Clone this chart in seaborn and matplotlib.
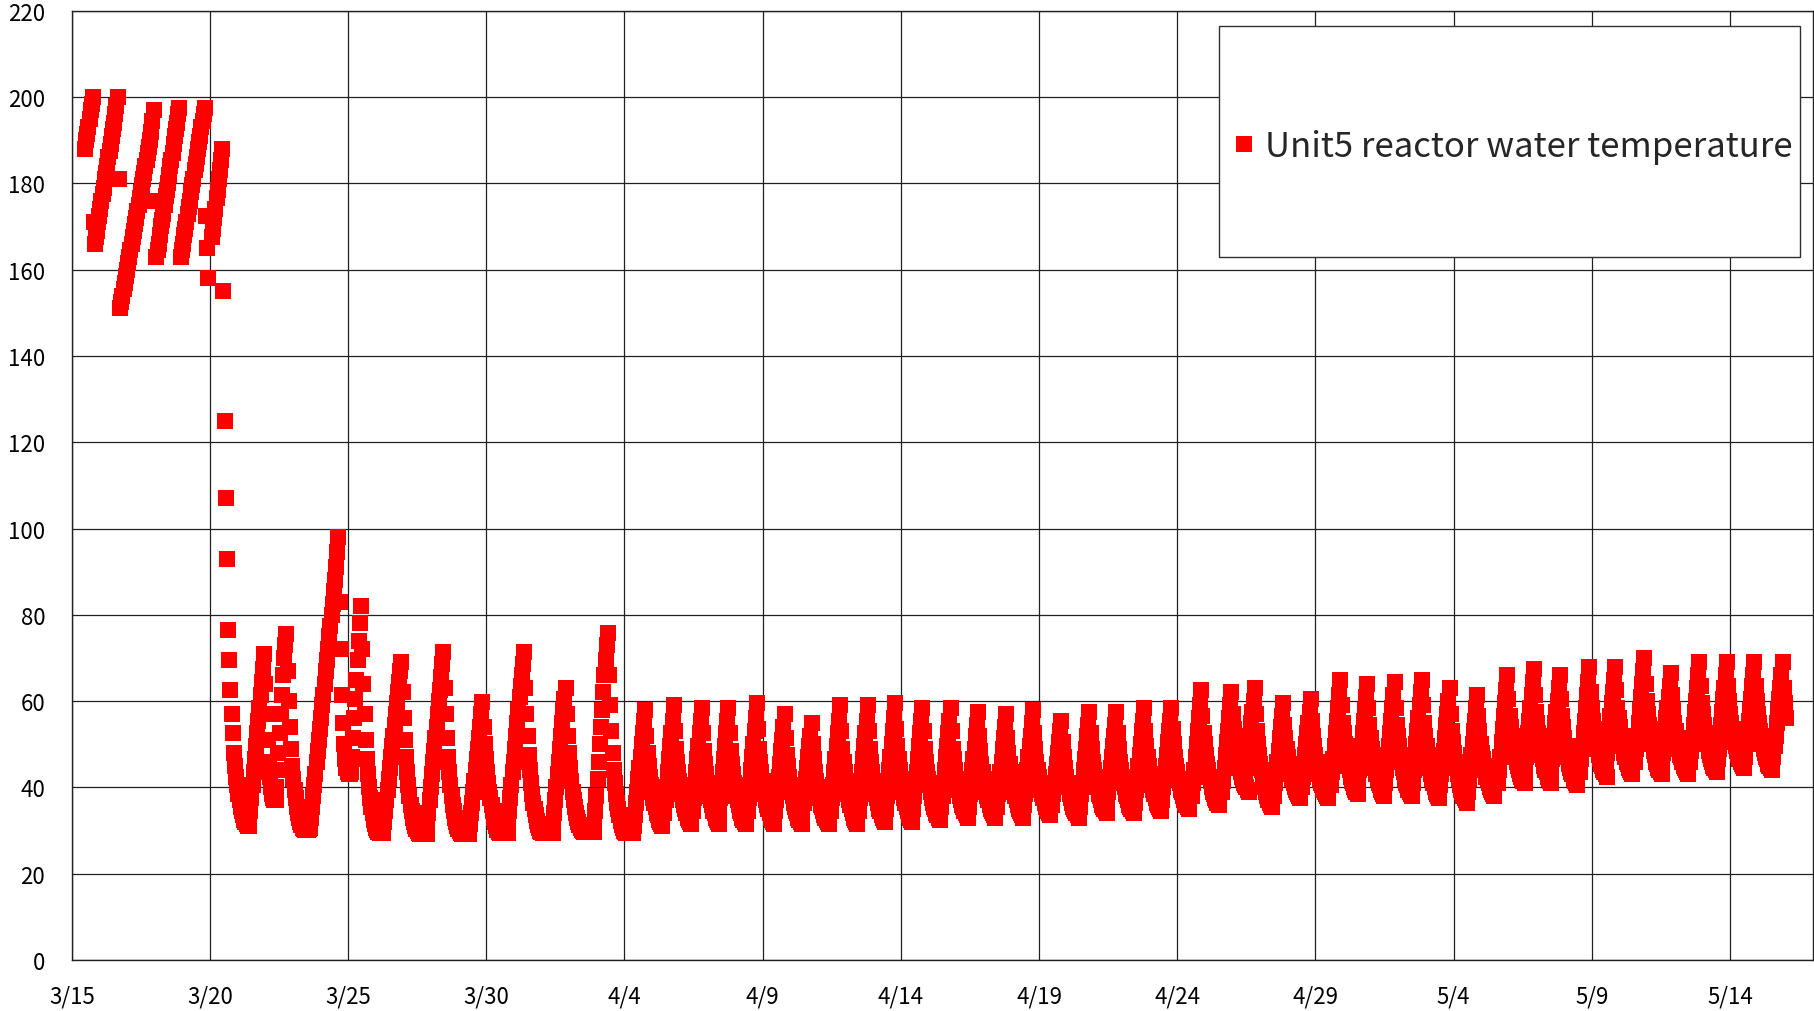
import matplotlib
matplotlib.use("Agg")
import matplotlib.pyplot as plt
from matplotlib.lines import Line2D
from matplotlib.patches import Rectangle
import pandas as pd
import seaborn as sns

# --- Axis labels ---------------------------------------------------------------
TICK_DAYS   = [0, 5, 10, 15, 20, 25, 30, 35, 40, 45, 50, 55, 60]   # days after 3/15
TICK_LABELS = ["3/15", "3/20", "3/25", "3/30", "4/4", "4/9", "4/14",
               "4/19", "4/24", "4/29", "5/4", "5/9", "5/14"]
Y_TICKS     = [0, 20, 40, 60, 80, 100, 120, 140, 160, 180, 200, 220]
SERIES_NAME = "Unit5 reactor water temperature"

# --- Readings (deg C), grouped by heat-up cycle --------------------------------
# peak_day: day of each cycle's peak (days after 3/15 00:00)
# rise_temps: hourly readings leading into the peak, fall_temps: hourly after it
peak_day = [0.77, 1.66, 2.96, 3.90, 4.82, 5.45,
            6.96, 7.77, 9.65, 10.47, 11.93, 13.45, 14.86, 16.37, 17.87, 19.40,
            20.75, 21.78, 22.80, 23.76, 24.79, 25.79, 26.77, 27.80, 28.80, 29.79,
            30.78, 31.80, 32.79, 33.81, 34.78, 35.81, 36.82, 37.80, 38.80, 39.79,
            40.87, 41.96, 42.80, 43.83, 44.83, 45.90, 46.87, 47.86, 48.85, 49.85,
            50.85, 51.94, 52.90, 53.84, 54.91, 55.84, 56.90, 57.86, 58.89, 59.88,
            60.88, 61.90]

peak_temp = [200, 200, 197, 197.5, 197.5, 188,
             71, 75.5, 98, 82, 69, 71.3, 59.7, 71.3, 63, 75.7,
             58, 59, 58.5, 58.5, 59.5, 57, 55, 59, 59, 59.5,
             58.5, 58.5, 57.5, 57, 58, 55.5, 57.5, 57.5, 58.5, 58.5,
             62.5, 62, 63, 59.5, 60.5, 65, 64, 64.5, 65, 63,
             61.5, 66, 67.5, 66, 68, 68, 70, 66.5, 69, 69,
             69, 69]

rise_temps = [
    [188, 190, 191.5, 193, 195, 197, 198.5],
    [166, 167.5, 169, 171, 172.5, 174, 176, 177.5, 179, 181, 182.5, 184, 186, 187.5,
     189, 191, 192.5, 194, 196, 198],
    [151, 152.5, 154, 155.5, 157, 158.5, 160, 161.5, 163, 164.5, 166, 167.5, 169, 170.5,
     172, 173.5, 175, 176.5, 178, 179.5, 181, 182.5, 184, 185.5, 187, 188.5, 190, 192, 194.5],
    [163, 164.5, 166, 168, 170, 171.5, 173, 175, 177, 178.5, 180, 182, 184, 185.5,
     187, 189, 191, 192.5, 194, 196],
    [163, 164.5, 166, 168, 169.5, 171, 173, 174.5, 176, 178, 179.5, 181, 183, 184.5,
     186, 188, 189.5, 191, 193, 194.5, 196],
    [167.5, 169.5, 172, 174, 176.5, 178.5, 181, 183, 185.5],
    [32, 34.5, 37.5, 40.5, 43.5, 46.5, 49.5, 52.5, 55.5, 58.5, 61.5, 64.5, 67.5],
    [40, 44, 48, 52.5, 57, 61.5, 66, 70, 73],
    [30.5, 33, 35.5, 38, 40.5, 43, 46, 48.5, 51, 53.5, 56, 59, 61.5, 64, 67, 69.5,
     72, 75, 77.5, 80, 82.5, 85.5, 88, 91, 94.5],
    [47, 51.5, 56, 60.5, 65, 69.5, 74, 78],
    [30, 32, 34.5, 37, 39.5, 42, 44.5, 47, 49.5, 52, 54.5, 57, 59.5, 62, 64.5, 67],
    [31, 34, 37, 40, 43, 46, 48.5, 51.5, 54, 57, 60, 62.5, 65.5, 68.5],
    [31.5, 34, 36.5, 39, 41.5, 44, 46.5, 49, 51.5, 54, 57],
    [31.5, 34.5, 37.5, 40.5, 43.5, 46, 49, 52, 55, 58, 61, 63.5, 66, 68.5],
    [31.5, 34, 37, 40, 43, 46, 49, 52, 55, 58, 60.5],
    [31, 34.5, 38, 42, 46, 50, 54, 58, 62, 66, 69.5, 73],
    [31, 33.5, 36.5, 39, 42, 44.5, 47, 50, 52.5, 55.5],
    [34, 37, 40, 43.5, 46.5, 49.5, 52.5, 55.5],
    [34.5, 37.5, 40.5, 43.5, 46.5, 49.5, 52.5, 55.5],
    [34.5, 37.5, 40.5, 43.5, 46.5, 49.5, 52.5, 55.5],
    [34.5, 37.5, 40.5, 44, 47, 50, 53, 56],
    [34.5, 37, 40, 42.5, 45.5, 48.5, 51, 54],
    [34, 36.5, 39.5, 42, 44.5, 47, 49.5, 52],
    [34.5, 37.5, 40.5, 43.5, 46.5, 49.5, 52.5, 55.5],
    [34.5, 37.5, 40.5, 43.5, 46.5, 49.5, 52.5, 55.5],
    [35, 38, 41, 44, 47, 50, 53, 56],
    [35, 38, 40.5, 43.5, 46.5, 49.5, 52.5, 55.5],
    [35.5, 38, 41, 44, 47, 49.5, 52.5, 55.5],
    [35.5, 38.5, 41, 44, 46.5, 49, 52, 54.5],
    [35.5, 38.5, 41, 43.5, 46, 49, 51.5, 54],
    [36, 38.5, 41, 44, 47, 49.5, 52, 55],
    [36, 38.5, 41, 43, 45.5, 48, 50.5, 53],
    [35.5, 38.5, 41, 44, 46.5, 49, 52, 54.5],
    [36.5, 39, 42, 44.5, 47, 49.5, 52, 54.5],
    [36.5, 39.5, 42, 45, 47.5, 50, 53, 55.5],
    [37, 40, 42.5, 45, 47.5, 50.5, 53, 55.5],
    [38, 41, 44, 47, 50, 53, 56, 59],
    [39, 41.5, 44.5, 47.5, 50.5, 53, 56, 59],
    [41.5, 44.5, 47, 49.5, 52, 55, 57.5, 60],
    [38, 41, 43.5, 46, 48.5, 51.5, 54, 56.5],
    [40, 42.5, 45, 47.5, 50, 52.5, 55, 57.5],
    [40.5, 43.5, 46.5, 49.5, 52.5, 55.5, 58.5, 61.5],
    [41.5, 44, 47, 49.5, 52.5, 55.5, 58, 61],
    [41, 44, 46.5, 49.5, 52.5, 55.5, 58.5, 61.5],
    [41, 44, 47, 50, 53, 56, 59, 62],
    [40.5, 43, 46, 48.5, 51.5, 54.5, 57, 60],
    [39, 42, 44.5, 47.5, 50, 53, 55.5, 58.5],
    [41, 44, 47, 50.5, 53.5, 56.5, 59.5, 62.5],
    [44, 47, 49.5, 52.5, 55.5, 58.5, 61.5, 64.5],
    [44, 46.5, 49, 52, 55, 57.5, 60, 63],
    [43.5, 46.5, 49.5, 52.5, 55.5, 58.5, 61.5, 64.5],
    [45.5, 48, 51, 53.5, 56.5, 59.5, 62, 65],
    [46, 49, 52, 55, 58, 61, 64, 67],
    [45.5, 48, 51, 53.5, 56, 58.5, 61, 63.5],
    [46, 48.5, 51.5, 54.5, 57.5, 60, 63, 66],
    [46.5, 49, 52, 54.5, 57.5, 60.5, 63, 66],
    [47, 50, 52.5, 55.5, 58, 60.5, 63.5, 66],
    [47, 49.5, 52, 55, 58, 60.5, 63, 66],
]

fall_temps = [
    [171],
    [181],
    [176],
    [],
    [172.5, 165, 158],
    [155, 125, 107, 93, 76.5, 69.5, 62.5, 57, 52.5, 48, 45, 42.5, 40.5, 38.5, 37,
     35.5, 34.5, 33.5, 32.5, 32, 31.5, 31, 31],
    [64, 57, 51, 46, 42.5, 40, 38.5, 37.5, 37, 37],
    [67, 60, 54, 49, 45, 42, 39.5, 37.5, 35.5, 34, 33, 32, 31.2, 30.7, 30.4, 30.2,
     30.2, 30.2, 30.2, 30.3],
    [83, 72, 61.5, 55, 50, 46.5, 44.5, 43.5, 43, 43, 43.5],
    [72, 64, 57, 51, 46.5, 43, 40, 37.5, 35.5, 34, 32.5, 31.5, 30.7, 30.1, 29.7,
     29.5, 29.4, 29.4, 29.4],
    [62, 56, 51, 47, 43.5, 40.5, 38, 36, 34.5, 33, 32, 31, 30.3, 29.8, 29.4, 29.2,
     29.1, 29.1, 29.1, 29.1, 29.1, 29.1],
    [63, 57, 51.5, 47, 43.5, 40.5, 38, 36, 34.5, 33, 32, 31, 30.3, 29.8, 29.4, 29.2,
     29.1, 29.1, 29.1, 29.1, 29.1, 29.2],
    [54, 50, 46.5, 43.5, 41, 39, 37.5, 36, 34.5, 33, 32, 31, 30.2, 29.7, 29.4, 29.4,
     29.4, 29.4, 29.4, 29.4, 29.4, 29.4],
    [63, 57, 52, 47.5, 44, 41, 38.5, 36.5, 35, 33.5, 32.3, 31.3, 30.5, 30, 29.6,
     29.4, 29.4, 29.4, 29.4, 29.4, 29.4, 29.4, 29.4, 29.4, 29.4],
    [57, 52, 48, 44.5, 41.5, 39, 37, 35.5, 34, 33, 32, 31.2, 30.6, 30.1, 29.8, 29.6,
     29.6, 29.6, 29.6, 29.6, 29.6, 29.6, 29.6, 29.6, 29.6],
    [66, 59, 53, 48, 44, 41, 38.5, 36.5, 35, 33.5, 32.3, 31.3, 30.5, 30, 29.6, 29.4,
     29.4, 29.4, 29.4, 29.4, 29.4, 29.4],
    [52, 48, 45, 42.5, 40.5, 39, 37.5, 36.5, 35.5, 34, 33.5, 32.5, 32, 31.5, 31],
    [53, 49, 46, 43.5, 41.5, 40, 38.5, 37, 36, 35, 34, 33, 32.5, 32, 31.5],
    [52.5, 48.5, 45.5, 43, 41, 39.5, 38, 37, 36, 34.5, 34, 33, 32.5, 32, 31.5],
    [52.5, 48.5, 45.5, 43, 41, 39.5, 38, 37, 36, 34.5, 34, 33, 32.5, 32, 31.5],
    [53.5, 49, 46, 43.5, 41.5, 40, 38.5, 37, 36, 35, 34, 33, 32.5, 32, 31.5],
    [51.5, 47.5, 45, 42.5, 40.5, 39, 38, 36.5, 35.5, 34.5, 34, 33, 32.5, 32, 31.5],
    [50, 46.5, 43.5, 41.5, 40, 38.5, 37.5, 36, 35.5, 34.5, 33.5, 33, 32.5, 32, 31.5],
    [53, 49, 46, 43.5, 41.5, 40, 38.5, 37, 36, 35, 34, 33, 32.5, 32, 31.5],
    [53, 49, 46, 43.5, 41.5, 40, 38.5, 37.5, 36.5, 35, 34.5, 33.5, 33, 32.5, 32],
    [53.5, 49.5, 46.5, 44, 42, 40.5, 39, 37.5, 36.5, 35.5, 34.5, 33.5, 33, 32.5, 32],
    [53, 49, 46, 43.5, 42, 40.5, 39, 37.5, 36.5, 35.5, 35, 34, 33.5, 33, 32.5],
    [53, 49, 46.5, 44, 42, 40.5, 39.5, 38, 37, 36, 35.5, 34.5, 34, 33.5, 33],
    [52, 48.5, 45.5, 43.5, 42, 40.5, 39, 38, 37, 36, 35, 34.5, 34, 33.5, 33],
    [51.5, 48, 45.5, 43.5, 41.5, 40, 39, 38, 37, 36, 35, 34.5, 34, 33.5, 33],
    [52.5, 49, 46, 44, 42.5, 41, 39.5, 38.5, 37.5, 36.5, 35.5, 35, 34.5, 34, 33.5],
    [50.5, 47, 44.5, 42.5, 41, 40, 38.5, 37.5, 36.5, 35.5, 35, 34.5, 34, 33.5, 33],
    [52.5, 49, 46, 44, 42.5, 41, 40, 38.5, 38, 37, 36, 35.5, 35, 34.5, 34],
    [52.5, 49, 46, 44, 42.5, 41, 40, 38.5, 38, 37, 36, 35.5, 35, 34.5, 34],
    [53, 49.5, 47, 45, 43, 41.5, 40.5, 39.5, 38.5, 37.5, 36.5, 36, 35.5, 35, 34.5],
    [53.5, 50, 47, 45, 43.5, 42, 41, 39.5, 39, 38, 37, 36.5, 36, 35.5, 35],
    [56.5, 52.5, 50, 47.5, 45.5, 44, 42.5, 41.5, 40, 39, 38.5, 37.5, 37, 36.5, 36],
    [57, 53.5, 51, 49, 47.5, 46, 45, 43.5, 42.5, 42, 41, 40.5, 40, 39.5, 39],
    [57, 53, 50, 47.5, 45.5, 44, 42.5, 41, 40, 39, 38, 37, 36.5, 36, 35.5],
    [54.5, 51.5, 49, 47, 45.5, 44, 43, 42, 41, 40, 39.5, 39, 38.5, 38, 37.5],
    [55.5, 52, 49.5, 47.5, 46, 44.5, 43, 42, 41, 40.5, 39.5, 39, 38.5, 38, 37.5],
    [59, 55, 52.5, 50, 48, 46.5, 45, 44, 42.5, 41.5, 41, 40, 39.5, 39, 38.5],
    [58.5, 54.5, 51.5, 49, 47.5, 46, 44.5, 43, 42, 41, 40.5, 39.5, 39, 38.5, 38],
    [58.5, 54.5, 52, 49.5, 47.5, 46, 44.5, 43.5, 42, 41, 40.5, 39.5, 39, 38.5, 38],
    [59, 55, 52, 49.5, 47.5, 46, 44.5, 43, 42, 41, 40, 39, 38.5, 38, 37.5],
    [57, 53, 50.5, 48, 46, 44.5, 43, 42, 40.5, 39.5, 39, 38, 37.5, 37, 36.5],
    [56.5, 53, 50, 48, 46.5, 45, 44, 42.5, 42, 41, 40, 39.5, 39, 38.5, 38],
    [60.5, 56.5, 54, 52, 50, 48.5, 47, 46, 45, 44, 43, 42.5, 42, 41.5, 41],
    [61.5, 57.5, 55, 52.5, 50.5, 49, 47.5, 46.5, 45, 44, 43.5, 42.5, 42, 41.5, 41],
    [60.5, 56.5, 54, 51.5, 49.5, 48, 47, 45.5, 44.5, 43.5, 43, 42, 41.5, 41, 40.5],
    [62, 58.5, 55.5, 53.5, 51.5, 50, 49, 47.5, 46.5, 45.5, 45, 44, 43.5, 43, 42.5],
    [62.5, 58.5, 56, 54, 52, 50.5, 49.5, 48, 47, 46, 45.5, 44.5, 44, 43.5, 43],
    [64, 60, 57, 54.5, 52.5, 51, 50, 48.5, 47.5, 46, 45.5, 44.5, 44, 43.5, 43],
    [61.5, 58, 55, 53, 51.5, 50, 49, 47.5, 47, 46, 45, 44.5, 44, 43.5, 43],
    [63.5, 59.5, 57, 54.5, 52.5, 51, 50, 48.5, 47.5, 46.5, 46, 45, 44.5, 44, 43.5],
    [63.5, 60, 57, 55, 53.5, 52, 50.5, 49.5, 48.5, 47.5, 46.5, 46, 45.5, 45, 44.5],
    [63.5, 60, 57, 55, 53, 51.5, 50, 49, 48, 47, 46.5, 45.5, 45, 44.5, 44],
    [63, 59.5, 56],
]

# --- Flatten into one hourly table ------------------------------------------
rows = []
for day, top, rise, fall in zip(peak_day, peak_temp, rise_temps, fall_temps):
    n = len(rise)
    for j, t in enumerate(rise):
        rows.append((day - (n - j) / 24, t))
    rows.append((day, top))
    for i, t in enumerate(fall):
        rows.append((day + (i + 1) / 24, t))
df = pd.DataFrame(rows, columns=["day", "temp"])

# --- Plot -------------------------------------------------------------------
sns.set_style("white")
plt.rcParams["font.family"] = ["Noto Sans CJK JP", "DejaVu Sans"]

fig = plt.figure(figsize=(18.15, 10.12), dpi=100)
ax = fig.add_axes([0.0395, 0.0504, 0.9594, 0.938])

sns.scatterplot(data=df, x="day", y="temp", marker="s", s=125, color="#ff0000",
                linewidth=0, legend=False, ax=ax, zorder=3)

ax.set_xlim(0, 63)
ax.set_ylim(0, 220)
ax.set_xticks(TICK_DAYS, TICK_LABELS)
ax.set_yticks(Y_TICKS)
ax.set_xlabel("")
ax.set_ylabel("")
ax.grid(True, color="#202020", linewidth=0.9)
ax.set_axisbelow(True)
for sp in ax.spines.values():
    sp.set_color("#202020")
    sp.set_linewidth(1.0)
ax.tick_params(axis="both", labelsize=16, length=0, colors="black")
ax.tick_params(axis="x", pad=18)
ax.tick_params(axis="y", pad=19)

# legend box
ax.add_patch(Rectangle((0.6589, 0.7405), 0.3336, 0.2433, transform=ax.transAxes,
                       facecolor="white", edgecolor="#303030", linewidth=1.0, zorder=5))
handle = Line2D([], [], linestyle="none", marker="s", markersize=11,
                markerfacecolor="#ff0000", markeredgewidth=0)
leg = ax.legend([handle], [SERIES_NAME], loc="center left",
                bbox_to_anchor=(0.6655, 0.857), frameon=False, fontsize=25,
                handlelength=0.8, handletextpad=0.18, borderpad=0, borderaxespad=0)
leg.set_zorder(6)

fig.savefig("out.png", dpi=100)
